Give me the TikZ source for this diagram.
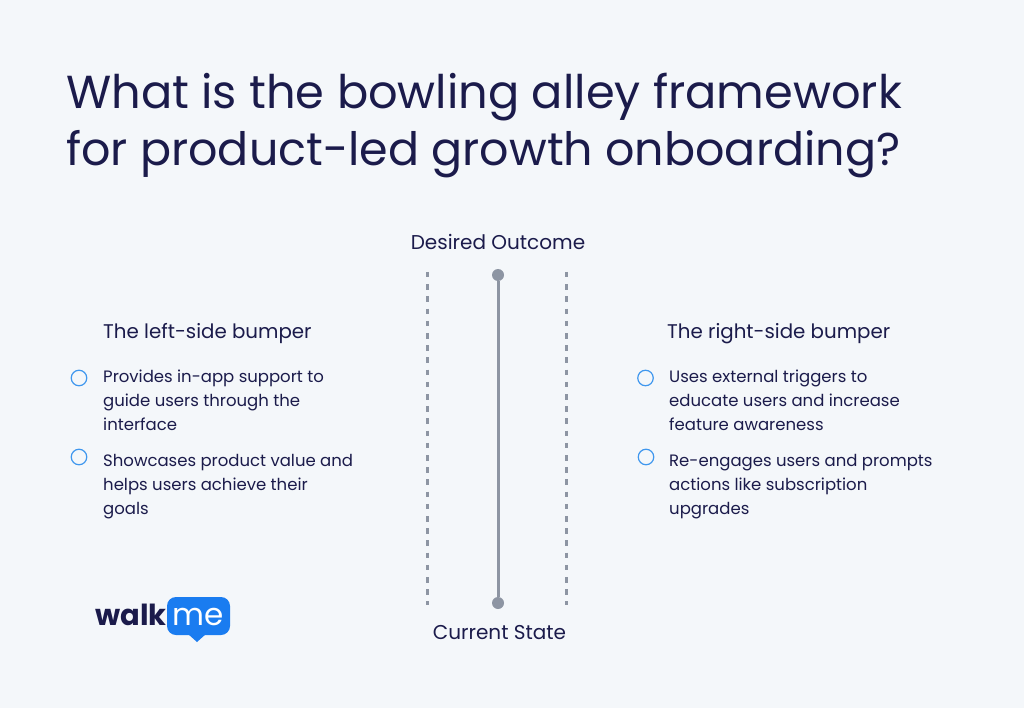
\documentclass[tikz,border=0pt]{standalone}
\usepackage{fontspec}
\setmainfont{Poppins}
\definecolor{bgc}{HTML}{F4F7FA}
\definecolor{ink}{HTML}{1B1B4B}
\definecolor{railc}{HTML}{8D95A3}
\definecolor{bluec}{HTML}{1A7CF0}
\definecolor{ringc}{HTML}{3F97EE}
\tikzset{
  titletext/.style={anchor=base west,inner sep=0pt,text=ink,font=\fontsize{46}{57}\selectfont,align=left},
  headtext/.style={anchor=base west,inner sep=0pt,text=ink,font=\fontsize{20}{24}\selectfont},
  bodytext/.style={anchor=base west,inner sep=0pt,text=ink,font=\fontsize{16.5}{24}\selectfont,align=left},
  endlabel/.style={anchor=base,inner sep=0pt,text=ink,font=\fontsize{20}{24}\selectfont},
  ring/.style={circle,draw=ringc,line width=1.2pt,minimum size=15.5pt,inner sep=0pt},
  raildot/.style={circle,fill=railc,minimum size=12pt,inner sep=0pt},
  rail/.style={draw=railc,line width=3pt},
  bumper/.style={draw=railc,line width=3pt,dash pattern=on 5.5pt off 6.7pt}
}
\begin{document}
\begin{tikzpicture}[x=1pt,y=-1pt]
\useasboundingbox (0,0) rectangle (1024,708);
\fill[bgc] (0,0) rectangle (1024,708);
\node[titletext,font=\fontsize{46.3}{57}\selectfont] (t1) at (66,108.5) {What is the bowling alley framework};
\node[titletext] (t2) at (66,166) {for product-led growth onboarding?};
\node[endlabel] (desired) at (498,250) {Desired Outcome};
\node[endlabel] (current) at (499.5,639) {Current State};
\node[raildot] (top) at (498,275) {};
\node[raildot] (bot) at (498,603) {};
\draw[rail] (top) -- (bot);
\coordinate (l1) at (427,272); \coordinate (l2) at (427,605);
\coordinate (r1) at (566,272); \coordinate (r2) at (566,605);
\draw[bumper] (l1) -- (l2);
\draw[bumper] (r1) -- (r2);
\node[headtext,font=\fontsize{19.8}{24}\selectfont] (lh) at (103,338) {The left-side bumper};
\node[headtext,font=\fontsize{19.8}{24}\selectfont] (rh) at (667,338) {The right-side bumper};
\node[ring] (lr1) at (79,378) {};
\node[ring] (lr2) at (79,457) {};
\node[ring] (rr1) at (645.5,378) {};
\node[ring] (rr2) at (646,457) {};
\node[bodytext] (lb1) at (103,430) {Provides in-app support to\\guide users through the\\interface};
\node[bodytext] (lb2) at (103,514) {Showcases product value and\\helps users achieve their\\goals};
\node[bodytext] (rb1) at (669,430) {Uses external triggers to\\educate users and increase\\feature awareness};
\node[bodytext] (rb2) at (669,514) {Re-engages users and prompts\\actions like subscription\\upgrades};
% logo
\fill[bluec,rounded corners=9pt] (167,597) rectangle (230,635);
\fill[bluec] (188,634) -- (197,642) -- (206,634) -- cycle;
\node[anchor=base west,inner sep=0pt,text=ink,font=\fontsize{29}{29}\selectfont\bfseries] (walk) at (95,625) {walk};
\node[anchor=base,inner sep=0pt,text=white,font=\fontsize{31}{31}\selectfont] (me) at (198,625) {me};
\end{tikzpicture}
\end{document}
